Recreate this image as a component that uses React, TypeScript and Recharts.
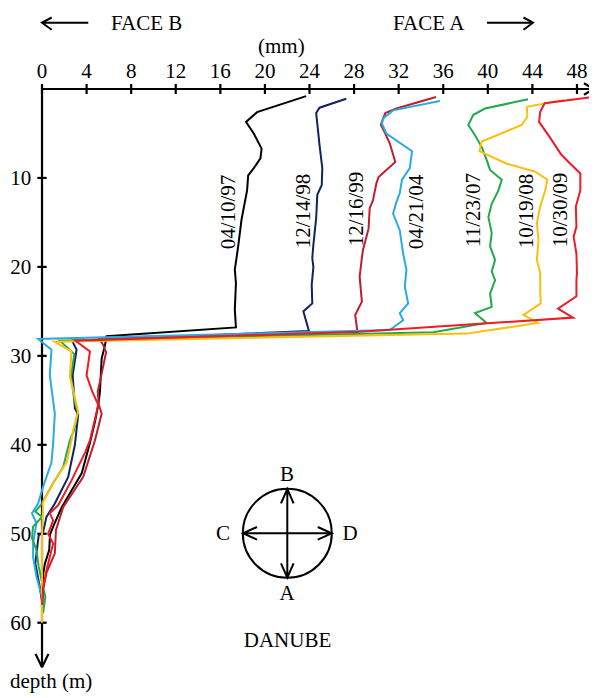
import React from 'react';
import { ScatterChart, Scatter, XAxis, YAxis, ReferenceLine } from 'recharts';

type Pt = [number, number]; // [displacement mm, depth m]

const xTicks = [0, 4, 8, 12, 16, 20, 24, 28, 32, 36, 40, 44, 48];
const depthTicks = [10, 20, 30, 40, 50, 60];
const seriesNames = ['04/10/97', '12/14/98', '12/16/99', '04/21/04', '11/23/07', '10/19/08', '10/30/09'];

const s970410: Pt[] = [
  [23.7, 0.8], [19.3, 2.6], [18.3, 3.7], [19.0, 5.0], [19.7, 6.7], [19.6, 7.8], [19.0, 8.9], [18.5, 9.7],
  [18.4, 11.4], [17.9, 14.7], [17.6, 17.7], [17.3, 20.3], [17.4, 21.8], [17.3, 24.8], [17.4, 26.8],
  [5.8, 27.8], [5.65, 28.8], [5.35, 30.3], [5.2, 34.0], [5.05, 35.5], [4.75, 37.4], [4.3, 39.8],
  [3.56, 43.2], [1.77, 47.0], [1.0, 49.2], [0.72, 50.1], [0.65, 51.8], [0.27, 53.3], [0.12, 54.4],
  [0.0, 56.3], [0.05, 58.0],
];
const s981214: Pt[] = [
  [27.3, 1.1], [24.9, 2.1], [24.6, 2.7], [24.9, 6.3], [25.15, 8.9], [25.1, 10.8], [24.7, 11.9], [24.6, 14.5],
  [24.35, 17.5], [24.25, 19.0], [24.35, 20.0], [24.2, 22.0], [24.25, 24.1], [23.45, 25.0], [23.95, 27.2],
  [2.7, 28.3], [3.1, 29.3], [2.75, 32.2], [2.95, 35.9], [3.25, 36.6], [2.95, 40.0], [2.35, 43.6],
  [1.15, 46.6], [0.4, 48.1], [0.1, 49.8], [-0.3, 50.2], [-0.6, 53.3], [-0.2, 56.0], [0.0, 57.6],
];
const s991216: Pt[] = [
  [35.35, 0.9], [31.8, 2.2], [30.8, 2.7], [30.4, 4.0], [30.8, 5.0], [31.2, 6.1], [31.7, 8.2], [30.2, 9.9],
  [30.0, 10.6], [29.7, 12.5], [29.4, 13.4], [29.3, 15.7], [28.8, 18.1], [28.7, 19.0], [28.5, 21.1],
  [28.7, 23.9], [28.1, 25.4], [28.3, 27.3], [5.1, 28.0], [5.5, 28.8], [5.75, 29.6], [5.2, 32.9],
  [5.0, 34.0], [5.1, 35.5], [5.35, 36.5], [4.75, 39.5], [3.7, 43.6], [1.9, 47.0], [1.25, 49.6],
  [1.15, 52.2], [0.4, 54.4], [0.1, 56.3], [0.0, 58.0],
];
const s040421: Pt[] = [
  [35.7, 1.35], [31.5, 2.4], [30.6, 3.3], [30.5, 3.9], [30.9, 5.0], [33.2, 7.0], [33.0, 8.9], [32.3, 10.2],
  [32.1, 11.7], [31.8, 12.7], [31.5, 14.0], [32.1, 15.9], [32.4, 18.5], [32.7, 20.3], [32.55, 22.2],
  [32.85, 24.1], [32.1, 25.2], [32.4, 26.0], [31.2, 27.1], [-0.35, 28.1], [0.85, 29.3], [0.7, 32.2],
  [1.15, 36.5], [1.0, 39.8], [0.85, 42.0], [0.1, 44.7], [-0.35, 46.6], [-0.9, 47.7], [-0.5, 48.8],
  [-0.8, 51.1], [-0.8, 52.6], [-0.5, 54.8], [0.0, 57.1], [0.1, 57.8],
];
const s071123: Pt[] = [
  [43.6, 1.15], [39.75, 2.2], [38.7, 2.9], [38.25, 4.05], [38.85, 5.2], [39.45, 6.5], [39.9, 8.0],
  [40.2, 9.1], [41.25, 10.2], [40.95, 11.4], [40.35, 12.9], [40.05, 14.4], [40.35, 16.2], [40.2, 17.7],
  [40.65, 19.2], [40.35, 20.5], [40.65, 21.5], [40.2, 23.0], [40.35, 24.5], [38.85, 25.2], [39.9, 26.3],
  [35.1, 27.35], [1.6, 28.3], [2.9, 29.8], [2.6, 32.3], [2.9, 35.0], [3.2, 36.3], [2.9, 38.3], [2.5, 39.5],
  [1.9, 42.5], [1.0, 44.3], [0.0, 46.6], [-0.6, 47.5], [0.0, 48.1], [-0.8, 49.2], [-0.9, 50.5],
  [-0.5, 51.8], [-0.3, 53.7], [0.1, 56.0], [0.3, 57.1], [0.1, 58.9],
];
const s081019: Pt[] = [
  [46.8, 1.25], [43.5, 2.0], [43.55, 3.1], [43.05, 4.05], [39.45, 5.9], [39.25, 7.0], [41.7, 8.4],
  [44.25, 9.3], [45.35, 10.2], [45.15, 11.4], [44.7, 13.2], [44.4, 15.1], [44.55, 17.0], [44.4, 19.2],
  [44.7, 20.7], [44.7, 22.6], [44.75, 24.1], [43.2, 25.4], [44.1, 26.0], [44.5, 26.3], [38.1, 27.5],
  [1.1, 28.4], [2.65, 29.5], [2.5, 32.3], [3.25, 36.3], [2.8, 38.3], [2.65, 39.5], [2.2, 42.0],
  [1.15, 44.0], [0.1, 46.4], [0.0, 50.0], [0.0, 55.0], [0.0, 60.0],
];
const s091030: Pt[] = [
  [49.1, 0.95], [45.1, 1.6], [44.7, 2.55], [44.6, 3.7], [45.6, 5.5], [46.6, 7.4], [47.4, 8.4], [48.3, 9.5],
  [48.3, 11.4], [47.9, 13.2], [47.95, 15.5], [47.7, 16.6], [47.95, 18.5], [48.0, 20.7], [47.95, 21.5],
  [47.95, 23.3], [46.3, 24.7], [47.65, 25.7], [28.5, 27.3], [3.0, 28.3], [4.3, 29.5], [4.0, 32.2],
  [4.5, 34.0], [5.05, 35.5], [4.3, 39.5], [3.85, 40.9], [2.65, 44.0], [1.45, 46.8], [0.7, 47.7],
  [1.0, 48.5], [0.55, 50.0], [1.0, 51.1], [0.4, 54.1], [0.1, 56.0], [0.0, 58.0],
];

const seriesData: Pt[][] = [s970410, s981214, s991216, s040421, s071123, s081019, s091030];
const seriesColors = ['#000000', '#13235b', '#be1e2d', '#29abe2', '#22a94b', '#fcbf10', '#ec1c24'];
const labelAnchors = [
  [235, 212], [310, 211], [363, 209], [423, 212], [480, 210], [533, 211], [567, 210],
];

const FONT = '"Liberation Serif", "Times New Roman", serif';
const toXY = (arr: Pt[]) => arr.map(([x, d]) => ({ x, y: d }));
const AX = { stroke: '#000', strokeWidth: 2.2 };

export default function App() {
  return (
    <div style={{ position: 'relative', width: 597, height: 698, margin: '-8px 0 0 -8px', fontFamily: FONT }}>
      <ScatterChart width={597} height={698} margin={{ top: 59, right: 3.3, bottom: 30.8, left: 3 }}>
        <XAxis
          type="number"
          dataKey="x"
          orientation="top"
          domain={[-3.5, 49.5]}
          ticks={xTicks}
          interval={0}
          axisLine={false}
          tickLine={false}
          tickMargin={5}
          height={30}
          tick={{ fill: '#000', fontSize: 21, fontFamily: FONT }}
        />
        <YAxis type="number" dataKey="y" domain={[0, 65]} reversed hide />
        <ReferenceLine segment={[{ x: 0, y: 0 }, { x: 49.5, y: 0 }]} ifOverflow="visible" {...AX} />
        <ReferenceLine segment={[{ x: 0, y: 0 }, { x: 0, y: 65 }]} ifOverflow="visible" {...AX} />
        <ReferenceLine segment={[{ x: 49.5, y: 0 }, { x: 48.63, y: -0.64 }]} ifOverflow="visible" {...AX} />
        <ReferenceLine segment={[{ x: 49.5, y: 0 }, { x: 48.63, y: 0.64 }]} ifOverflow="visible" {...AX} />
        <ReferenceLine segment={[{ x: 0, y: 65 }, { x: -0.58, y: 63.5 }]} ifOverflow="visible" {...AX} />
        <ReferenceLine segment={[{ x: 0, y: 65 }, { x: 0.58, y: 63.5 }]} ifOverflow="visible" {...AX} />
        {xTicks.map((t) => (
          <ReferenceLine
            key={'xt' + t}
            segment={[{ x: t, y: -0.56 }, { x: t, y: 0.56 }]}
            ifOverflow="visible"
            {...AX}
          />
        ))}
        {depthTicks.map((t) => (
          <ReferenceLine
            key={'yt' + t}
            segment={[{ x: -0.42, y: t }, { x: 0.42, y: t }]}
            ifOverflow="visible"
            {...AX}
            label={{ value: String(t), position: 'left', offset: 6, fill: '#000', fontSize: 21, fontFamily: FONT }}
          />
        ))}
        {seriesData.map((s, i) => (
          <Scatter
            key={seriesNames[i]}
            name={seriesNames[i]}
            data={toXY(s)}
            fill={seriesColors[i]}
            line={{ stroke: seriesColors[i], strokeWidth: 2 }}
            lineType="joint"
            shape={() => <g />}
            isAnimationActive={false}
          />
        ))}
      </ScatterChart>
      <svg
        width={597}
        height={698}
        style={{ position: 'absolute', left: 0, top: 0, pointerEvents: 'none' }}
        fontFamily={FONT}
        fontSize={21}
      >
        <text x={111} y={30}>FACE B</text>
        <text x={393} y={30}>FACE A</text>
        <text x={258} y={53}>(mm)</text>
        <path d="M42 22.7 H88.3 M51.7 17.5 L42 22.7 L51.7 29.8" stroke="#000" strokeWidth={2} fill="none" />
        <path d="M487 22.7 H533 M523.5 17.5 L533 22.7 L523.5 29.8" stroke="#000" strokeWidth={2} fill="none" />
        {seriesNames.map((n, i) => (
          <text
            key={n}
            x={labelAnchors[i][0]}
            y={labelAnchors[i][1]}
            textAnchor="middle"
            transform={`rotate(-90 ${labelAnchors[i][0]} ${labelAnchors[i][1]})`}
          >
            {n}
          </text>
        ))}
        <circle cx={287.3} cy={533.3} r={44.5} stroke="#000" strokeWidth={2} fill="none" />
        <path
          d="M287.3 489 V577.6 M281 503.3 L287.3 489 L293.6 503.3 M281 563.3 L287.3 577.6 L293.6 563.3 M243 533.3 H331.7 M257 527 L243 533.3 L257 539.6 M317.7 527 L331.7 533.3 L317.7 539.6"
          stroke="#000"
          strokeWidth={2}
          fill="none"
        />
        <text x={287} y={481} textAnchor="middle">B</text>
        <text x={287} y={600} textAnchor="middle">A</text>
        <text x={223} y={540} textAnchor="middle">C</text>
        <text x={350} y={540} textAnchor="middle">D</text>
        <text x={287.5} y={647} textAnchor="middle">DANUBE</text>
        <text x={10} y={688}>depth (m)</text>
      </svg>
    </div>
  );
}
